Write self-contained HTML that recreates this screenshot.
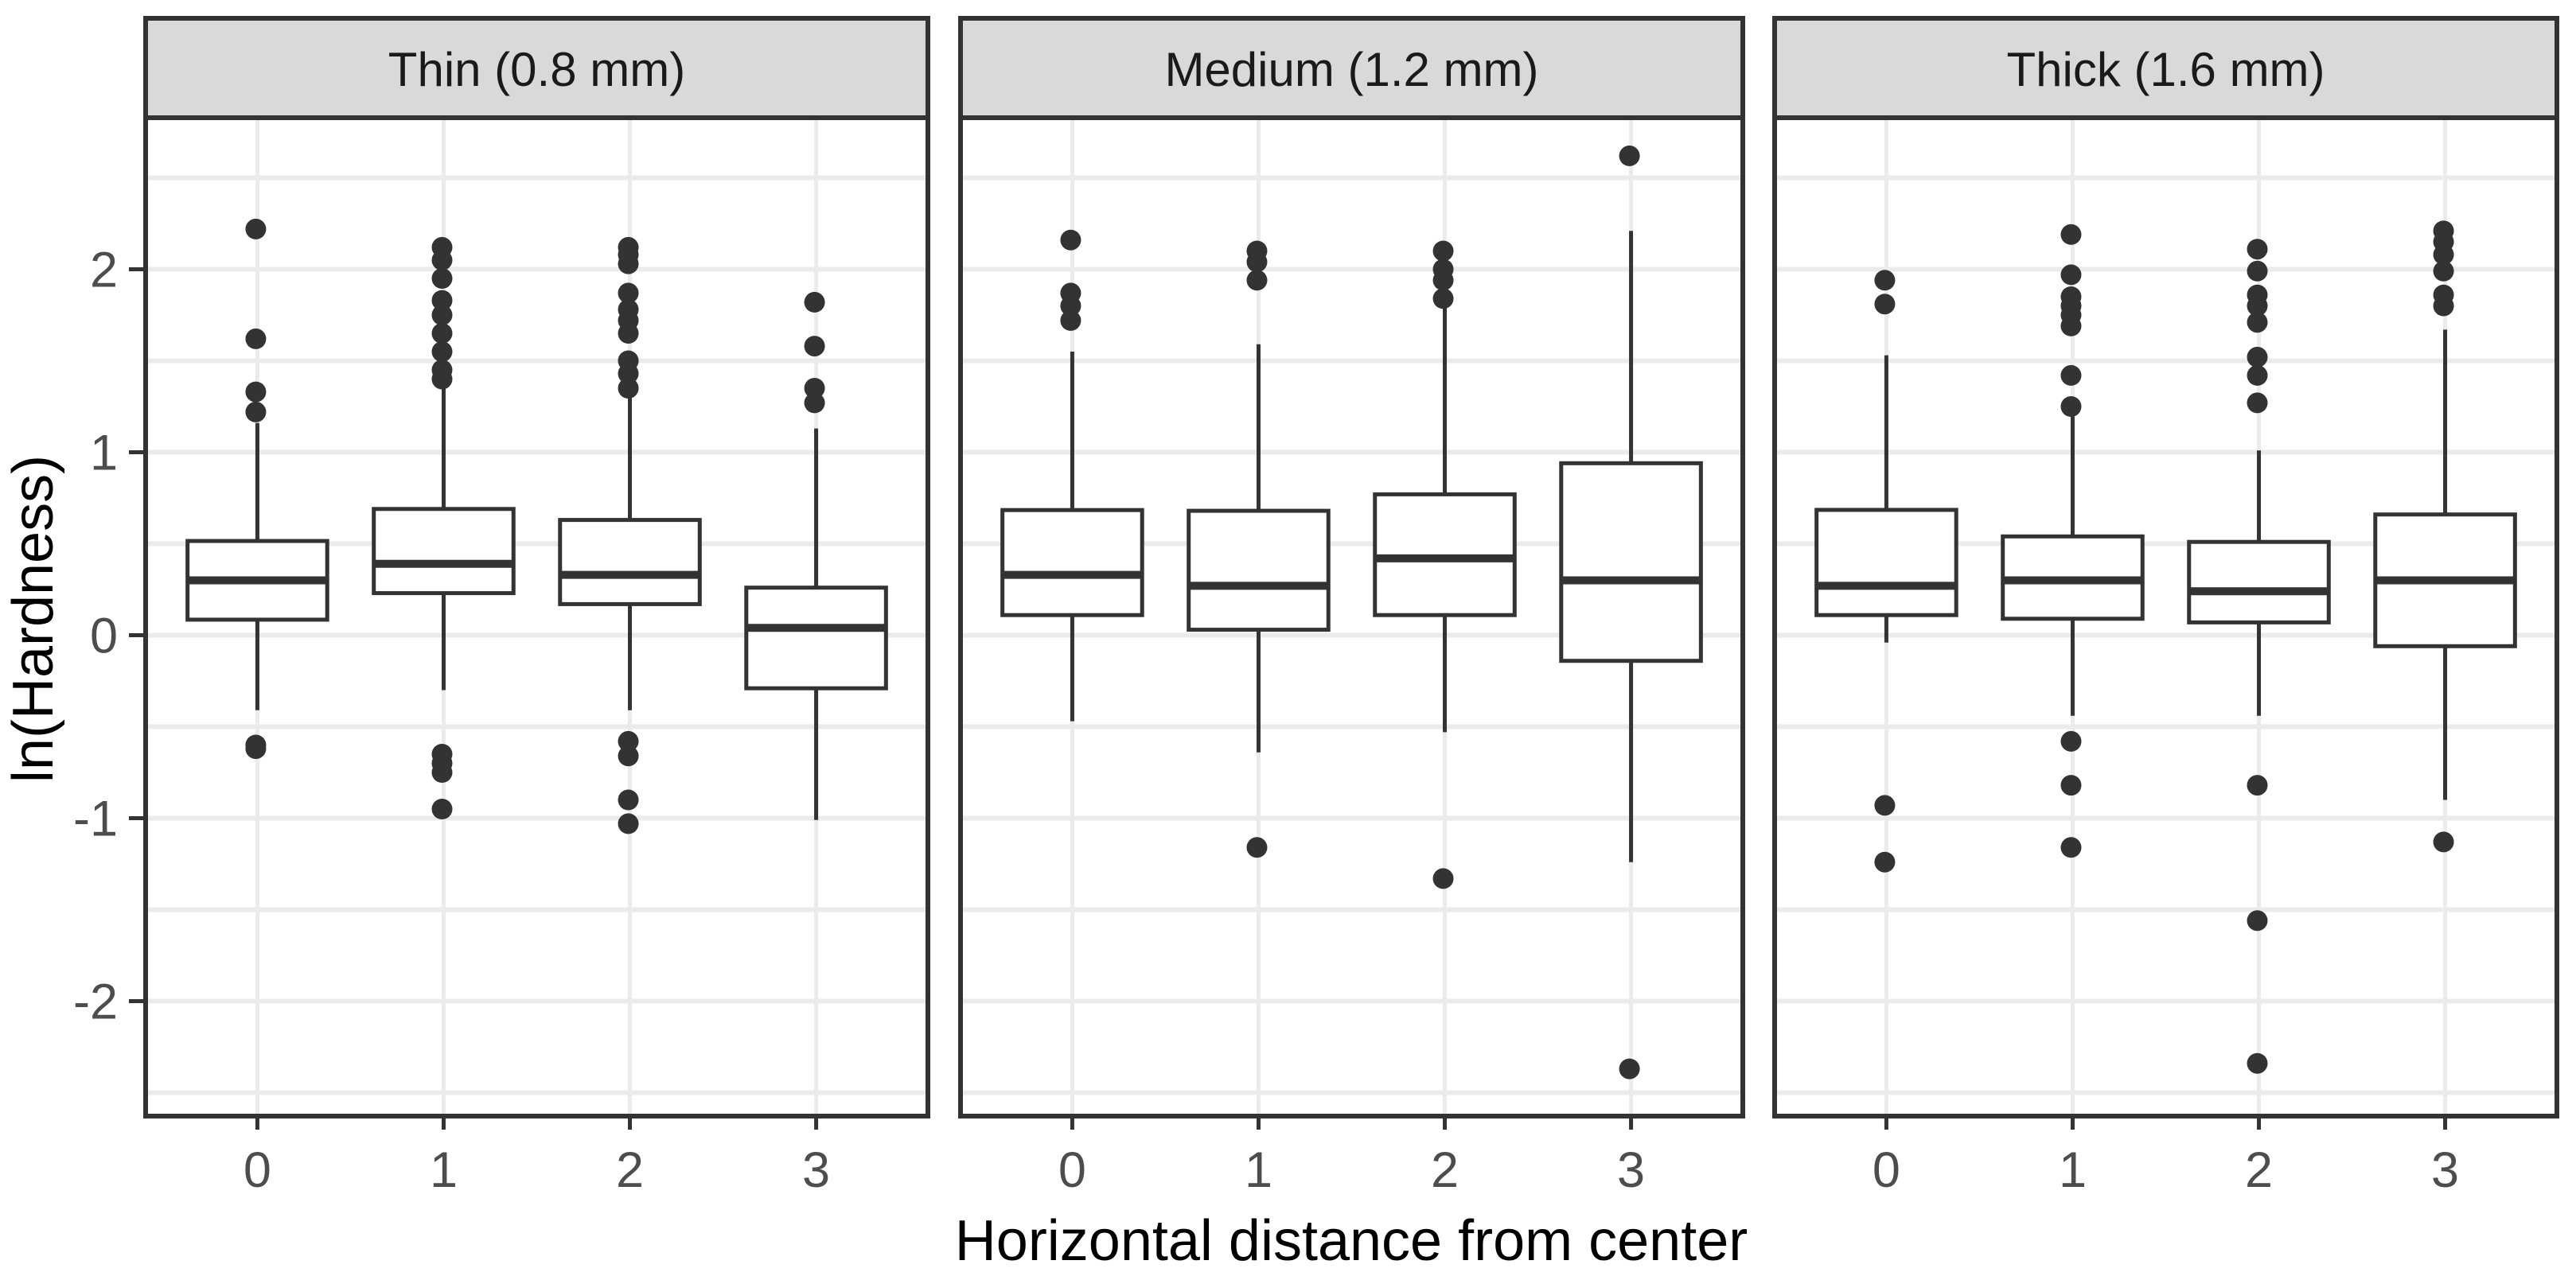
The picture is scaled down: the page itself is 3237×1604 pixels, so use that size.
<!DOCTYPE html>
<html><head><meta charset="utf-8"><style>
html,body{margin:0;padding:0;background:#fff;}
svg{display:block;}
text{font-family:"Liberation Sans",Arial,sans-serif;}
</style></head><body>
<svg id="chart" width="3237" height="1604" viewBox="0 0 3237 1604" xmlns="http://www.w3.org/2000/svg">
<text x="0" y="0" transform="translate(66,778) rotate(-90)" text-anchor="middle" font-size="72" fill="#000">ln(Hardness)</text>
<text x="1698" y="1584" text-anchor="middle" font-size="72" fill="#000">Horizontal distance from center</text>
</svg>
<script>
const panelTitles = ["Thin (0.8 mm)", "Medium (1.2 mm)", "Thick (1.6 mm)"];
const categories = ["0", "1", "2", "3"];
const yTicks = [-2, -1, 0, 1, 2];
const yMinor = [-2.5, -1.5, -0.5, 0.5, 1.5, 2.5];
// per panel, per category: [lowerWhisker, q1, median, q3, upperWhisker]
const thinStats = [[-0.41,0.085,0.30,0.515,1.16],[-0.30,0.23,0.39,0.69,1.37],[-0.41,0.17,0.33,0.63,1.30],[-1.01,-0.29,0.04,0.26,1.13]];
const mediumStats = [[-0.47,0.11,0.33,0.684,1.55],[-0.64,0.03,0.27,0.68,1.59],[-0.53,0.11,0.42,0.77,1.79],[-1.24,-0.14,0.30,0.94,2.21]];
const thickStats = [[-0.04,0.11,0.27,0.685,1.53],[-0.44,0.09,0.30,0.54,1.24],[-0.44,0.07,0.24,0.51,1.01],[-0.90,-0.06,0.30,0.66,1.67]];
const thinOutliers = [[2.22,1.62,1.33,1.22,-0.60,-0.62],[2.12,2.05,1.95,1.83,1.75,1.65,1.55,1.45,1.40,-0.65,-0.70,-0.75,-0.95],[2.12,2.08,2.03,1.87,1.78,1.72,1.65,1.50,1.43,1.35,-0.58,-0.66,-0.90,-1.03],[1.82,1.58,1.35,1.27]];
const mediumOutliers = [[2.16,1.87,1.80,1.72],[2.10,2.04,1.94,-1.16],[2.10,2.00,1.94,1.84,-1.33],[2.62,-2.37]];
const thickOutliers = [[1.94,1.81,-0.93,-1.24],[2.19,1.97,1.85,1.80,1.75,1.69,1.42,1.25,-0.58,-0.82,-1.16],[2.11,1.99,1.86,1.80,1.71,1.52,1.42,1.27,-0.82,-1.56,-2.34],[2.21,2.15,2.08,1.99,1.86,1.80,-1.13]];

const allStats = [thinStats, mediumStats, thickStats];
const allOutliers = [thinOutliers, mediumOutliers, thickOutliers];
const NS = "http://www.w3.org/2000/svg";
const svg = document.getElementById("chart");
const panelLefts = [183, 1207, 2230];
const panelW = 983, stripTop = 23, plotTop = 148, plotBottom = 1403;
const yScale = v => 798.5 - v * 230;
const xScale = (left, i) => left + panelW * (0.6 + i) / 4.2;
const INK = "#333333";
function mk(tag, attrs){const e=document.createElementNS(NS,tag);for(const k in attrs)e.setAttribute(k,attrs[k]);svg.appendChild(e);return e;}

panelLefts.forEach((left, p) => {
  const bg = mk("rect",{x:left,y:plotTop,width:panelW,height:plotBottom-plotTop,fill:"#fff"});
  
  
  yMinor.forEach(v => {
    const g = mk("line",{x1:left,x2:left+panelW,y1:yScale(v),y2:yScale(v),stroke:"#ebebeb","stroke-width":6});
    
    
  });
  yTicks.forEach(v => {
    const g = mk("line",{x1:left,x2:left+panelW,y1:yScale(v),y2:yScale(v),stroke:"#ebebeb","stroke-width":6});
    
    
  });
  categories.forEach((c, i) => {
    const x = xScale(left, i);
    const g = mk("line",{x1:x,x2:x,y1:plotTop,y2:plotBottom,stroke:"#ebebeb","stroke-width":5});
    
    
  });
  categories.forEach((c, i) => {
    const s = allStats[p][i];
    const x = xScale(left, i);
    const hw = panelW / 4.2 * 0.375;
    const wl = mk("line",{x1:x,x2:x,y1:yScale(s[1]),y2:yScale(s[0]),stroke:INK,"stroke-width":5});
    
    
    const wu = mk("line",{x1:x,x2:x,y1:yScale(s[3]),y2:yScale(s[4]),stroke:INK,"stroke-width":5});
    
    
    const box = mk("rect",{x:x-hw,y:yScale(s[3]),width:2*hw,height:yScale(s[1])-yScale(s[3]),fill:"#fff",stroke:INK,"stroke-width":5});
    
    
    const med = mk("line",{x1:x-hw,x2:x+hw,y1:yScale(s[2]),y2:yScale(s[2]),stroke:INK,"stroke-width":10});
    
    
    allOutliers[p][i].forEach(v => {
      const pt = mk("circle",{cx:x-2,cy:yScale(v),r:13,fill:INK});
      
      
    });
    const tk = mk("line",{x1:x,x2:x,y1:plotBottom,y2:plotBottom+17,stroke:INK,"stroke-width":5});
    
    
    const lb = mk("text",{x:x,y:1492,"text-anchor":"middle","font-size":63,fill:"#4d4d4d"});
    lb.textContent = c;
    
    
  });
  const border = mk("rect",{x:left,y:plotTop,width:panelW,height:plotBottom-plotTop,fill:"none",stroke:INK,"stroke-width":6});
  
  
  const strip = mk("rect",{x:left,y:stripTop,width:panelW,height:plotTop-stripTop,fill:"#d9d9d9",stroke:INK,"stroke-width":6});
  
  
  const st = mk("text",{x:left+panelW/2,y:108,"text-anchor":"middle","font-size":60,fill:"#1a1a1a"});
  st.textContent = panelTitles[p];
  
  
});
yTicks.forEach(v => {
  const tk = mk("line",{x1:162,x2:183,y1:yScale(v),y2:yScale(v),stroke:INK,"stroke-width":5});
  
  
  const lb = mk("text",{x:148,y:yScale(v)+22,"text-anchor":"end","font-size":63,fill:"#4d4d4d"});
  lb.textContent = String(v);
  
  
});
</script>
</body></html>
